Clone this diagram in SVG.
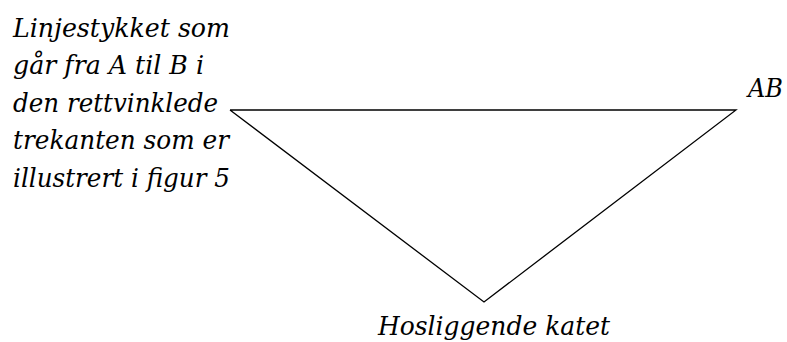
<svg xmlns="http://www.w3.org/2000/svg" width="787" height="342" viewBox="0 0 787 342">
<style>
text{font-family:"DejaVu Serif","Liberation Serif","Times New Roman",serif;font-style:italic;font-size:26px;fill:#000}
.ln{fill:none;stroke:#000;stroke-width:1.3}
</style>
<rect width="787" height="342" fill="#fff"/>
<g id="label-left">
<text x="13" y="37" textLength="217" lengthAdjust="spacingAndGlyphs">Linjestykket som</text>
<text x="13" y="74" textLength="191" lengthAdjust="spacingAndGlyphs">går fra A til B i</text>
<text x="13" y="112" textLength="205" lengthAdjust="spacingAndGlyphs">den rettvinklede</text>
<text x="13" y="149" textLength="216" lengthAdjust="spacingAndGlyphs">trekanten som er</text>
<text x="13" y="187" textLength="217" lengthAdjust="spacingAndGlyphs">illustrert i figur 5</text>
</g>
<g id="connectors">
<polyline class="ln" points="230,110 736,110 484,302 230,110"/>
</g>
<g id="label-ab"><text x="748" y="97" textLength="35" lengthAdjust="spacingAndGlyphs">AB</text></g>
<g id="label-bottom"><text x="378" y="335" textLength="232" lengthAdjust="spacingAndGlyphs">Hosliggende katet</text></g>
</svg>
